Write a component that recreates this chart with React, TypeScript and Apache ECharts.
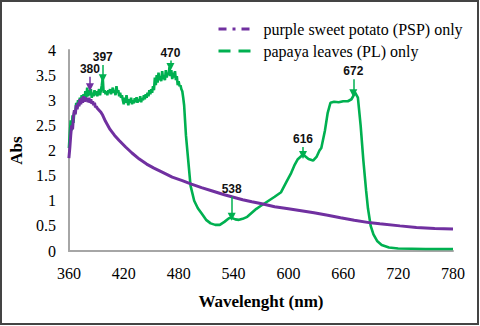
import React, { useEffect, useRef } from "react";
import * as echarts from "echarts";

// Purple sweet potato (PSP): wavelength (nm) and absorbance
const pspWavelength = [360, 361, 362, 363, 364, 365, 366, 367, 368, 369, 370, 371, 372, 373, 374, 375, 376, 377, 378, 379, 380, 381, 382, 383, 384, 385, 386, 387, 388, 389, 390, 391, 393, 395, 397, 400, 405, 410, 415, 422, 429, 437, 445, 453, 462, 473, 484, 494, 505, 516, 530, 538, 550, 560, 571, 585, 600, 614, 628, 643, 657, 672, 690, 700, 722, 740, 760, 780];
const pspAbs = [1.85, 2.05, 2.3, 2.5, 2.42, 2.68, 2.8, 2.72, 2.9, 2.82, 2.95, 2.88, 3.02, 2.92, 3.05, 2.95, 3.08, 2.97, 3.06, 2.98, 3.04, 2.96, 3.05, 2.95, 3.02, 2.93, 2.98, 2.9, 2.95, 2.86, 2.88, 2.84, 2.8, 2.76, 2.7, 2.58, 2.42, 2.3, 2.2, 2.07, 1.95, 1.83, 1.73, 1.65, 1.57, 1.47, 1.4, 1.33, 1.26, 1.2, 1.12, 1.08, 1.02, 0.98, 0.94, 0.88, 0.84, 0.8, 0.76, 0.71, 0.66, 0.61, 0.56, 0.54, 0.5, 0.47, 0.45, 0.44];

// Papaya leaves (PL): wavelength (nm) and absorbance
const plWavelength = [360, 361, 362, 363, 364, 365, 366, 367, 368, 369, 370, 371, 372, 373, 374, 375, 376, 377, 378, 379, 380, 381, 382, 383, 384, 385, 386, 387, 388, 389, 390, 391, 392, 393, 394, 395, 396, 397, 398, 399, 400, 401, 402, 403, 404, 405, 406, 407, 408, 409, 410, 411, 412, 413, 414, 415, 416, 417, 418, 419, 420, 421, 422, 423, 424, 425, 426, 427, 428, 429, 430, 431, 432, 433, 434, 435, 436, 437, 438, 439, 440, 441, 442, 443, 444, 445, 446, 447, 448, 449, 450, 451, 452, 453, 454, 455, 456, 457, 458, 459, 460, 461, 462, 463, 464, 465, 466, 467, 468, 469, 470, 471, 472, 473, 474, 475, 476, 477, 478, 479, 480, 481, 482, 483, 484, 485, 486, 487, 488, 490, 493, 497, 501, 505, 510, 515, 520, 525, 530, 535, 538, 542, 546, 550, 555, 560, 565, 570, 575, 580, 585, 592, 598, 603, 607, 610, 616, 622, 627, 631, 634, 636, 640, 643, 646, 650, 655, 660, 665, 669, 673, 676, 679, 682, 685, 687, 690, 693, 697, 702, 710, 720, 750, 780];
const plAbs = [2.05, 2.35, 2.6, 2.4, 2.7, 2.55, 2.8, 2.75, 2.95, 2.85, 3.0, 2.9, 3.05, 2.95, 3.1, 2.98, 3.12, 3.0, 3.18, 3.05, 3.25, 3.08, 3.2, 3.1, 3.22, 3.05, 3.15, 3.08, 3.2, 3.1, 3.18, 3.08, 3.15, 3.22, 3.1, 3.2, 3.3, 3.45, 3.15, 3.2, 3.12, 3.18, 3.1, 3.2, 3.15, 3.22, 3.12, 3.18, 3.25, 3.15, 3.2, 3.1, 3.28, 3.15, 3.2, 3.08, 3.15, 3.05, 3.1, 3.0, 2.92, 3.05, 2.95, 3.1, 2.98, 2.9, 3.02, 2.95, 3.05, 2.92, 3.0, 2.94, 3.04, 2.96, 3.06, 2.95, 3.02, 2.98, 3.08, 2.96, 3.04, 3.0, 3.1, 3.02, 3.12, 3.05, 3.15, 3.08, 3.2, 3.12, 3.22, 3.15, 3.28, 3.2, 3.45, 3.3, 3.5, 3.35, 3.55, 3.4, 3.48, 3.38, 3.58, 3.42, 3.5, 3.4, 3.6, 3.45, 3.55, 3.5, 3.66, 3.48, 3.6, 3.42, 3.55, 3.45, 3.58, 3.4, 3.48, 3.3, 3.38, 3.28, 3.3, 3.22, 3.18, 3.05, 2.9, 2.6, 2.3, 1.9, 1.3, 1.0, 0.85, 0.75, 0.62, 0.55, 0.52, 0.52, 0.58, 0.65, 0.66, 0.63, 0.62, 0.64, 0.68, 0.76, 0.84, 0.9, 0.96, 1.02, 1.08, 1.17, 1.38, 1.55, 1.72, 1.82, 1.92, 1.83, 1.8, 1.88, 2.0, 2.05, 2.4, 2.75, 2.95, 2.97, 2.96, 2.98, 2.98, 3.02, 3.15, 3.05, 2.5, 1.8, 1.2, 0.85, 0.5, 0.33, 0.2, 0.12, 0.07, 0.05, 0.04, 0.04];

// Peak annotations: label, x position, arrow start (top) and tip absorbance
const peakLabels = ["380", "397", "470", "538", "616", "672"];
const peakX = [383, 397, 471, 538, 616, 671];
const peakTop = [3.47, 3.7, 3.79, 1.08, 2.07, 3.42];
const peakTip = [3.26, 3.44, 3.66, 0.68, 1.91, 3.14];
const peakSeries = [0, 1, 1, 1, 1, 1];

const xTicks = [360, 780, 60];
const yTicks = [0, 4, 0.5];

const seriesNames = ["purple sweet potato (PSP) only", "papaya leaves (PL) only"];
const colors = ["#7030a0", "#00b050"];

export default function App() {
  const ref = useRef<HTMLDivElement>(null);
  useEffect(() => {
    document.body.style.margin = "0";
    const chart = echarts.init(ref.current!, null, { renderer: "svg" });
    const markFor = (si: number) => ({
      silent: true,
      symbol: ["none", "triangle"],
      symbolSize: [8, 8],
      lineStyle: { color: colors[si], width: 1.5, type: "solid" },
      label: {
        show: true,
        position: "start",
        distance: 2,
        color: "#111",
        fontFamily: "Liberation Sans",
        fontWeight: "bold",
        fontSize: 12,
        lineHeight: 12,
      },
      emphasis: { disabled: true },
      data: peakLabels
        .map((lab, i) => ({ lab, i }))
        .filter((o) => peakSeries[o.i] === si)
        .map(({ lab, i }) => [
          { coord: [peakX[i], peakTop[i]], label: { formatter: lab } },
          { coord: [peakX[i], peakTip[i]] },
        ]),
    });
    chart.setOption({
      animation: false,
      grid: { left: 66, right: 27, top: 50, bottom: 75 },
      legend: {
        left: 212,
        top: 16,
        orient: "vertical",
        itemWidth: 33,
        itemHeight: 14,
        itemGap: 6,
        textStyle: {
          fontFamily: "Liberation Serif",
          fontSize: 16,
          color: "#000",
          padding: [0, 0, 0, 7],
        },
        data: [
          { name: seriesNames[0], itemStyle: { opacity: 0 }, lineStyle: { type: [8, 6, 3, 6], width: 3, color: colors[0], opacity: 1 } },
          { name: seriesNames[1], itemStyle: { opacity: 0 }, lineStyle: { type: [12, 8], width: 3, color: colors[1], opacity: 1 } },
        ],
      },
      xAxis: {
        type: "value",
        min: xTicks[0],
        max: xTicks[1],
        interval: xTicks[2],
        name: "Wavelenght (nm)",
        nameLocation: "middle",
        nameGap: 42,
        nameTextStyle: { fontFamily: "Liberation Serif", fontWeight: "bold", fontSize: 17, color: "#000" },
        axisLine: { lineStyle: { color: "#a6a6a6", width: 2 } },
        axisTick: { show: false },
        splitLine: { show: false },
        axisLabel: { fontFamily: "Liberation Serif", fontSize: 16, color: "#000", margin: 14 },
      },
      yAxis: {
        type: "value",
        min: yTicks[0],
        max: yTicks[1],
        interval: yTicks[2],
        name: "Abs",
        nameLocation: "middle",
        nameRotate: 90,
        nameGap: 42,
        nameTextStyle: { fontFamily: "Liberation Serif", fontWeight: "bold", fontSize: 17, color: "#000" },
        axisLine: { show: true, lineStyle: { color: "#a6a6a6", width: 2 } },
        axisTick: { show: false },
        splitLine: { show: false },
        axisLabel: { fontFamily: "Liberation Serif", fontSize: 16, color: "#000", margin: 13 },
      },
      graphic: [
        {
          type: "rect",
          shape: { x: 1, y: 1, width: 477, height: 323 },
          style: { fill: "none", stroke: "#444", lineWidth: 2 },
          silent: true,
        },
      ],
      series: [
        {
          name: seriesNames[0],
          type: "line",
          symbol: "none",
          data: pspWavelength.map((w, i) => [w, pspAbs[i]]),
          lineStyle: { color: colors[0], width: 3 },
          itemStyle: { color: colors[0] },
          markLine: markFor(0),
          z: 3,
        },
        {
          name: seriesNames[1],
          type: "line",
          symbol: "none",
          data: plWavelength.map((w, i) => [w, plAbs[i]]),
          lineStyle: { color: colors[1], width: 2.6 },
          itemStyle: { color: colors[1] },
          markLine: markFor(1),
          z: 2,
        },
      ],
    });
    return () => chart.dispose();
  }, []);
  return <div ref={ref} style={{ width: 480, height: 326 }} />;
}
